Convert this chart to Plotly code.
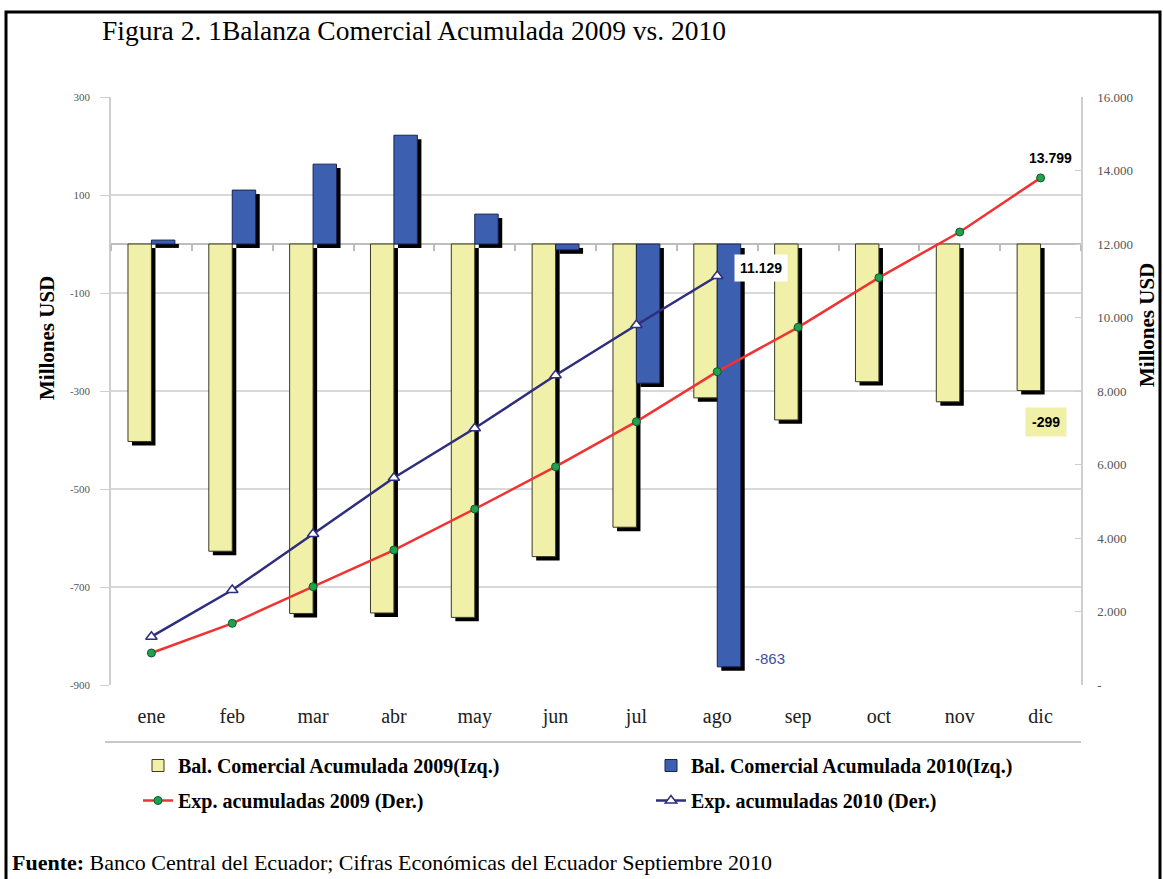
import plotly.graph_objects as go

meses = ["ene", "feb", "mar", "abr", "may", "jun", "jul", "ago", "sep", "oct", "nov", "dic"]
bal_2009 = [-403, -627, -754, -753, -762, -638, -578, -314, -359, -281, -322, -299]
bal_2010 = [8, 110, 163, 222, 61, -12, -284, -863, None, None, None, None]
exp_2009 = [871, 1678, 2676, 3673, 4789, 5940, 7166, 8526, 9733, 11084, 12327, 13799]
exp_2010 = [1315, 2585, 4109, 5641, 6985, 8430, 9796, 11129, None, None, None, None]

left_ticks = [300, 100, -100, -300, -500, -700, -900]
right_ticks = [0, 2000, 4000, 6000, 8000, 10000, 12000, 14000, 16000]
right_labels = ["-", "2.000", "4.000", "6.000", "8.000", "10.000", "12.000", "14.000", "16.000"]

names = ["Bal. Comercial Acumulada 2009(Izq.)", "Bal. Comercial Acumulada 2010(Izq.)",
         "Exp. acumuladas 2009 (Der.)", "Exp. acumuladas 2010 (Der.)"]

W, H = 1163, 879
L, R, T, B = 111, 1081, 97, 685


def px(x):
    return (x - L) / (R - L)


def py(y):
    return (B - y) / (B - T)


def fmt(v):
    return f"{v:,}".replace(",", ".")


YEL = "#F0F0A8"
BLU = "#3C5FAF"
BW = 0.29
SH_X = 0.05
SH_Y = -8

fig = go.Figure()

# shadows
fig.add_trace(go.Bar(x=meses, y=bal_2009, base=SH_Y, width=BW, offset=-BW + SH_X,
                     marker=dict(color="black", line=dict(width=0)), showlegend=False, hoverinfo="skip"))
fig.add_trace(go.Bar(x=meses, y=bal_2010, base=SH_Y, width=BW, offset=SH_X,
                     marker=dict(color="black", line=dict(width=0)), showlegend=False, hoverinfo="skip"))
# invisible trace that carries the category axis drawn along the zero line
fig.add_trace(go.Scatter(x=meses, y=bal_2009, xaxis="x2", yaxis="y", mode="markers",
                         marker=dict(opacity=0), showlegend=False, hoverinfo="skip"))
# bars
fig.add_trace(go.Bar(x=meses, y=bal_2009, width=BW, offset=-BW, name=names[0],
                     legend="legend", legendgroup="a",
                     marker=dict(color=YEL, line=dict(color="#3a3a20", width=1))))
fig.add_trace(go.Bar(x=meses, y=bal_2010, width=BW, offset=0, name=names[1],
                     legend="legend2", legendgroup="b",
                     marker=dict(color=BLU, line=dict(color="#1a2350", width=1))))
# lines
fig.add_trace(go.Scatter(x=meses, y=exp_2009, yaxis="y2", name=names[2], mode="lines+markers",
                         legend="legend", legendgroup="c",
                         line=dict(color="#F03232", width=2.5),
                         marker=dict(symbol="circle", size=8, color="#22A050",
                                     line=dict(color="#0B5A2A", width=1))))
fig.add_trace(go.Scatter(x=meses, y=exp_2010, yaxis="y2", name=names[3], mode="lines+markers",
                         legend="legend2", legendgroup="d",
                         line=dict(color="#2E2D7E", width=2.5),
                         marker=dict(symbol="triangle-up", size=10, color="white",
                                     line=dict(color="#2E2D7E", width=1.5))))

annotations = [
    dict(text="Figura 2. 1Balanza Comercial Acumulada 2009 vs. 2010", xref="paper", yref="paper",
         x=px(100), y=py(31), xanchor="left", yanchor="middle", showarrow=False,
         font=dict(family="Liberation Serif", size=27.5, color="black")),
    dict(text="Millones USD", xref="paper", yref="paper", x=px(47), y=py(338), textangle=-90,
         showarrow=False, xanchor="center", yanchor="middle",
         font=dict(family="Liberation Serif", size=21, color="black", weight="bold")),
    dict(text="Millones USD", xref="paper", yref="paper", x=px(1147), y=py(325), textangle=-90,
         showarrow=False, xanchor="center", yanchor="middle",
         font=dict(family="Liberation Serif", size=21, color="black", weight="bold")),
    dict(text="<b>Fuente:</b> Banco Central del Ecuador; Cifras Económicas del Ecuador Septiembre 2010",
         xref="paper", yref="paper", x=px(10), y=py(862), xanchor="left", yanchor="middle",
         showarrow=False, font=dict(family="Liberation Serif", size=22, color="black")),
    # data labels
    dict(text="<b>" + fmt(exp_2009[-1]) + "</b>", x=meses[-1], y=exp_2009[-1], xref="x", yref="y2",
         xshift=10, yshift=20, showarrow=False,
         font=dict(family="Liberation Sans", size=14, color="black")),
    dict(text="<b>" + fmt(exp_2010[7]) + "</b>", x=meses[7], y=exp_2010[7], xref="x", yref="y2",
         xshift=44, yshift=8, showarrow=False, bgcolor="white", borderpad=5,
         font=dict(family="Liberation Sans", size=14, color="black")),
    dict(text=str(bal_2010[7]), x=meses[7], y=bal_2010[7], xref="x", yref="y",
         xshift=53, yshift=8, showarrow=False,
         font=dict(family="Liberation Sans", size=15, color="#3C4FA0")),
    dict(text="<b>" + str(bal_2009[-1]) + "</b>", x=meses[-1], y=bal_2009[-1], xref="x", yref="y",
         xshift=5, yshift=-31, showarrow=False, bgcolor=YEL, borderpad=6,
         font=dict(family="Liberation Sans", size=14, color="black")),
]

shapes = [
    dict(type="rect", xref="paper", yref="paper", x0=px(6), x1=px(1160), y0=py(895), y1=py(12),
         line=dict(color="black", width=3), layer="above"),
    dict(type="line", xref="paper", yref="paper", x0=px(105), x1=px(1081), y0=py(742), y1=py(742),
         line=dict(color="#C8C8C8", width=2)),
]

legend_common = dict(orientation="v", yanchor="top", xanchor="left", traceorder="grouped",
                     tracegroupgap=6, itemwidth=30, bgcolor="rgba(0,0,0,0)",
                     font=dict(family="Liberation Serif", size=20, color="black", weight="bold"))

fig.update_layout(
    width=W, height=H,
    margin=dict(l=L, r=W - R, t=T, b=H - B, autoexpand=False),
    paper_bgcolor="white", plot_bgcolor="white",
    barmode="overlay",
    font=dict(family="Liberation Serif", color="black"),
    showlegend=True,
    legend=dict(x=px(138), y=py(746), **legend_common),
    legend2=dict(x=px(651), y=py(746), **legend_common),
    xaxis=dict(type="category", categoryorder="array", categoryarray=meses,
               range=[-0.5, len(meses) - 0.5], showgrid=False, ticks="",
               tickfont=dict(family="Liberation Serif", size=20, color="#202020"),
               ticklabelstandoff=17, showline=False, zeroline=False),
    xaxis2=dict(type="category", categoryorder="array", categoryarray=meses,
                range=[-0.5, len(meses) - 0.5], overlaying="x", anchor="free",
                position=py(244), side="bottom", showgrid=False, showline=False,
                showticklabels=False, ticks="outside", tickson="boundaries",
                ticklen=6, tickcolor="#BDBDBD", tickwidth=1.5, zeroline=False),
    yaxis=dict(range=[-900, 300], tickvals=left_ticks, ticktext=[str(v) for v in left_ticks],
               showgrid=True, gridcolor="#D9D9D9", gridwidth=1.5,
               zeroline=True, zerolinecolor="#BDBDBD", zerolinewidth=2,
               showline=True, linecolor="#CFCFCF", linewidth=1.5,
               ticks="outside", ticklen=9, tickcolor="#CFCFCF",
               tickfont=dict(family="Liberation Serif", size=11, color="#555555"),
               ticklabelstandoff=8),
    yaxis2=dict(range=[0, 16000], overlaying="y", side="right", tickvals=right_ticks,
                ticktext=right_labels, showgrid=False, zeroline=False,
                showline=True, linecolor="#CFCFCF", linewidth=1.5,
                ticks="inside", ticklen=6, tickcolor="#CFCFCF",
                tickfont=dict(family="Liberation Serif", size=13, color="#555555"),
                ticklabelstandoff=12),
    annotations=annotations,
    shapes=shapes,
)

fig.write_html("out.html")
